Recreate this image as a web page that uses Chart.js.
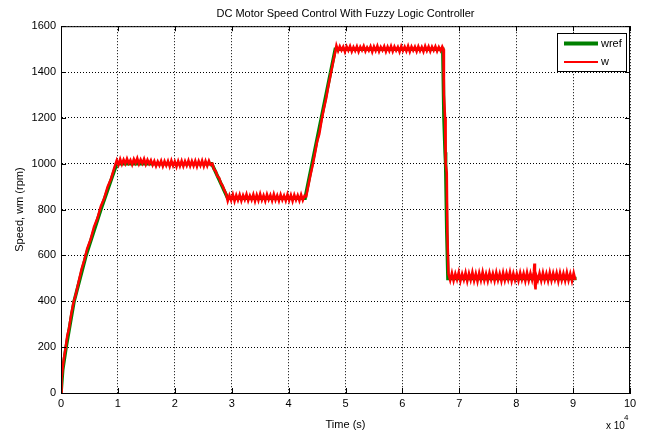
<!DOCTYPE html>
<html lang="en">
<head>
  <meta charset="UTF-8" />
  <title>DC Motor Speed Control With Fuzzy Logic Controller</title>
  <style>
    body { margin: 0; padding: 0; background: #fff; }
    canvas { display: block; }
  </style>
</head>
<body>
  <canvas id="speedChart" width="646" height="432"></canvas>

  <script src="https://cdn.jsdelivr.net/npm/chart.js"></script>
  <script>
    // time in units of 10^4 s, speed in rpm
    const xTicks = [0, 1, 2, 3, 4, 5, 6, 7, 8, 9, 10];
    const yTicks = [0, 200, 400, 600, 800, 1000, 1200, 1400, 1600];

    // reference speed
    const wrefTime = [0, 0.03, 0.09, 0.23, 0.44, 0.70, 0.98, 2.65, 2.93, 4.29, 4.82, 6.71, 6.73, 6.75, 6.76, 6.78, 6.80, 9.06];
    const wrefSpeed = [0, 100, 200, 400, 600, 800, 1000, 1000, 850, 850, 1500, 1500, 1200, 1050, 1000, 700, 500, 500];

    const wTime = [
      0, 0.01, 0.03, 0.05, 0.08, 0.11, 0.14, 0.18, 0.22, 0.26, 0.31, 0.36, 0.41, 0.46, 0.52, 0.58, 0.64, 0.70, 0.76, 0.82, 0.88, 0.94,
      0.98, 1.01, 1.04, 1.07, 1.10, 1.13, 1.16, 1.19, 1.22, 1.25, 1.28, 1.31, 1.34, 1.37, 1.40, 1.43, 1.46, 1.49, 1.52, 1.55, 1.58, 1.61,
      1.64, 1.67, 1.70, 1.73, 1.76, 1.79, 1.82, 1.85, 1.88, 1.91, 1.94, 1.97, 2.00, 2.03, 2.06, 2.09, 2.12, 2.15, 2.18, 2.21, 2.24, 2.27,
      2.30, 2.33, 2.36, 2.39, 2.42, 2.45, 2.48, 2.51, 2.54, 2.57, 2.60, 2.63,
      2.66, 2.69, 2.72, 2.75, 2.78, 2.81, 2.84, 2.87, 2.90,
      2.93, 2.96, 2.99, 3.02, 3.05, 3.08, 3.11, 3.14, 3.17, 3.20, 3.23, 3.26, 3.29, 3.32, 3.35, 3.38, 3.41, 3.44, 3.47, 3.50, 3.53, 3.56,
      3.59, 3.62, 3.65, 3.68, 3.71, 3.74, 3.77, 3.80, 3.83, 3.86, 3.89, 3.92, 3.95, 3.98, 4.01, 4.04, 4.07, 4.10, 4.13, 4.16, 4.19, 4.22,
      4.25, 4.28,
      4.31, 4.34, 4.38, 4.42, 4.46, 4.50, 4.54, 4.58, 4.62, 4.66, 4.70, 4.74, 4.78, 4.81, 4.84,
      4.87, 4.90, 4.93, 4.96, 4.99, 5.02, 5.05, 5.08, 5.11, 5.14, 5.17, 5.20, 5.23, 5.26, 5.29, 5.32, 5.35, 5.38, 5.41, 5.44, 5.47, 5.50,
      5.53, 5.56, 5.59, 5.62, 5.65, 5.68, 5.71, 5.74, 5.77, 5.80, 5.83, 5.86, 5.89, 5.92, 5.95, 5.98, 6.01, 6.04, 6.07, 6.10, 6.13, 6.16,
      6.19, 6.22, 6.25, 6.28, 6.31, 6.34, 6.37, 6.40, 6.43, 6.46, 6.49, 6.52, 6.55, 6.58, 6.61, 6.64, 6.67, 6.70,
      6.72, 6.73, 6.75, 6.76, 6.78, 6.79, 6.81,
      6.84, 6.87, 6.90, 6.93, 6.96, 6.99, 7.02, 7.05, 7.08, 7.11, 7.14, 7.17, 7.20, 7.23, 7.26, 7.29, 7.32, 7.35, 7.38, 7.41, 7.44, 7.47,
      7.50, 7.53, 7.56, 7.59, 7.62, 7.65, 7.68, 7.71, 7.74, 7.77, 7.80, 7.83, 7.86, 7.89, 7.92, 7.95, 7.98, 8.01, 8.04, 8.07, 8.10, 8.13,
      8.16, 8.19, 8.22, 8.25, 8.28, 8.31, 8.32, 8.33, 8.34, 8.35, 8.38, 8.41, 8.44, 8.47, 8.50, 8.53, 8.56, 8.59, 8.62, 8.65, 8.68, 8.71,
      8.74, 8.77, 8.80, 8.83, 8.86, 8.89, 8.92, 8.95, 8.98, 9.01, 9.04
    ];
    const wSpeed = [
      0, 60, 110, 150, 195, 250, 280, 345, 395, 430, 485, 540, 580, 630, 670, 725, 762, 815, 850, 900, 935, 985,
      1015, 995, 1020, 998, 1018, 1000, 1022, 1002, 1016, 996, 1020, 1003, 1024, 999, 1018, 1001, 1021, 997, 1017, 1000, 1015, 994,
      1012, 990, 1010, 993, 1013, 989, 1011, 992, 1012, 988, 1014, 991, 1010, 987, 1012, 990, 1013, 989, 1011, 992, 1014, 990,
      1012, 991, 1013, 988, 1012, 992, 1014, 989, 1012, 991, 1013, 995,
      1000, 975, 968, 945, 938, 915, 905, 885, 870,
      838, 862, 840, 866, 837, 863, 841, 865, 838, 862, 843, 867, 839, 861, 842, 866, 837, 864, 840, 868, 841, 862,
      838, 866, 843, 863, 839, 867, 841, 862, 838, 865, 842, 861, 839, 866, 840, 863, 837, 864, 842, 862, 839, 865,
      841, 860,
      858, 895, 945, 990, 1040, 1095, 1130, 1190, 1240, 1285, 1340, 1390, 1440, 1475, 1515,
      1492, 1512, 1495, 1510, 1488, 1511, 1494, 1513, 1490, 1509, 1493, 1512, 1489, 1510, 1495, 1513, 1491, 1508, 1494, 1512, 1488, 1511,
      1493, 1514, 1490, 1509, 1495, 1512, 1489, 1510, 1492, 1513, 1490, 1511, 1494, 1509, 1488, 1512, 1493, 1510, 1491, 1513, 1489, 1511,
      1494, 1510, 1490, 1512, 1492, 1509, 1489, 1513, 1493, 1511, 1490, 1510, 1494, 1512, 1491, 1509, 1493, 1511,
      1500, 1300, 1200, 1000, 960, 700, 520,
      492, 524, 490, 521, 495, 526, 489, 520, 494, 525, 488, 522, 493, 527, 490, 521, 487, 524, 492, 528, 491, 520,
      489, 525, 494, 522, 490, 526, 492, 521, 488, 525, 491, 523, 494, 527, 489, 522, 492, 520, 490, 525, 494, 522,
      489, 526, 491, 523, 493, 528, 565, 470, 452, 515, 491, 523, 490, 525, 492, 521, 489, 526, 491, 523, 494, 524,
      488, 525, 492, 522, 490, 526, 491, 521, 489, 524, 493
    ];

    const FONT = "'Liberation Sans', Arial, sans-serif";

    const toPoints = (xs, ys) => xs.map((x, i) => ({ x: x, y: ys[i] }));

    // box, inward ticks, legend and the x10^4 multiplier
    const matlabDecor = {
      id: "matlabDecor",
      afterDraw(chart) {
        const { ctx, chartArea: a, scales } = chart;
        ctx.save();
        ctx.strokeStyle = "#000";
        ctx.lineWidth = 1;
        ctx.strokeRect(a.left + 0.5, a.top + 0.5, a.right - a.left - 1, a.bottom - a.top);

        ctx.beginPath();
        xTicks.forEach(v => {
          const x = Math.round(scales.x.getPixelForValue(v)) + 0.5;
          ctx.moveTo(x, a.bottom); ctx.lineTo(x, a.bottom - 5);
          ctx.moveTo(x, a.top); ctx.lineTo(x, a.top + 5);
        });
        yTicks.forEach(v => {
          const y = Math.round(scales.y.getPixelForValue(v)) + 0.5;
          ctx.moveTo(a.left, y); ctx.lineTo(a.left + 5, y);
          ctx.moveTo(a.right, y); ctx.lineTo(a.right - 5, y);
        });
        ctx.stroke();

        // legend
        ctx.fillStyle = "#fff";
        ctx.fillRect(557, 33, 70, 39);
        ctx.strokeStyle = "#000";
        ctx.strokeRect(557.5, 33.5, 69, 38);
        ctx.lineWidth = 4;
        ctx.strokeStyle = "#008000";
        ctx.beginPath(); ctx.moveTo(564, 43.5); ctx.lineTo(598, 43.5); ctx.stroke();
        ctx.lineWidth = 2;
        ctx.strokeStyle = "#ff0000";
        ctx.beginPath(); ctx.moveTo(564, 62); ctx.lineTo(598, 62); ctx.stroke();
        ctx.fillStyle = "#000";
        ctx.font = "11px " + FONT;
        ctx.textBaseline = "middle";
        ctx.textAlign = "left";
        ctx.fillText("wref", 601, 44);
        ctx.fillText("w", 601, 62);

        // exponent label
        ctx.font = "10px " + FONT;
        ctx.fillText("x 10", 606, 426);
        ctx.font = "8px " + FONT;
        ctx.fillText("4", 624, 418);
        ctx.restore();
      }
    };

    const ctx = document.getElementById("speedChart").getContext("2d");
    new Chart(ctx, {
      type: "line",
      data: {
        datasets: [
          {
            label: "w",
            data: toPoints(wTime, wSpeed),
            borderColor: "#ff0000",
            borderWidth: 2.5,
            pointRadius: 0,
            tension: 0,
            order: 0
          },
          {
            label: "wref",
            data: toPoints(wrefTime, wrefSpeed),
            borderColor: "#008000",
            borderWidth: 3.5,
            pointRadius: 0,
            tension: 0,
            order: 1
          }
        ]
      },
      options: {
        responsive: false,
        animation: false,
        layout: { padding: { left: 0, right: 16, top: 0, bottom: 0 } },
        plugins: {
          legend: { display: false },
          tooltip: { enabled: false },
          title: {
            display: true,
            text: "DC Motor Speed Control With Fuzzy Logic Controller",
            color: "#000",
            fullSize: false,
            font: { family: FONT, size: 11, weight: "normal" },
            padding: { top: 7, bottom: 6 }
          }
        },
        scales: {
          x: {
            type: "linear",
            min: xTicks[0],
            max: xTicks[xTicks.length - 1],
            afterFit: s => { s.height = 39; },
            afterBuildTicks: s => { s.ticks = xTicks.map(v => ({ value: v })); },
            ticks: { color: "#000", padding: 4, font: { family: FONT, size: 11 }, callback: v => String(v) },
            grid: { color: "#000", drawTicks: false, lineWidth: 1 },
            border: { display: true, color: "#000", dash: [1, 2] },
            title: {
              display: true,
              text: "Time (s)",
              color: "#000",
              font: { family: FONT, size: 11 },
              padding: { top: 7, bottom: 0 }
            }
          },
          y: {
            min: yTicks[0],
            max: yTicks[yTicks.length - 1],
            afterFit: s => { s.width = 61; },
            afterBuildTicks: s => { s.ticks = yTicks.map(v => ({ value: v })); },
            ticks: { color: "#000", padding: 5, font: { family: FONT, size: 11 }, callback: v => String(v) },
            grid: { color: "#000", drawTicks: false, lineWidth: 1 },
            border: { display: true, color: "#000", dash: [1, 2] },
            title: {
              display: true,
              text: "Speed, wm (rpm)",
              color: "#000",
              font: { family: FONT, size: 11 },
              padding: { top: 13, bottom: 0 }
            }
          }
        }
      },
      plugins: [matlabDecor]
    });
  </script>
</body>
</html>
